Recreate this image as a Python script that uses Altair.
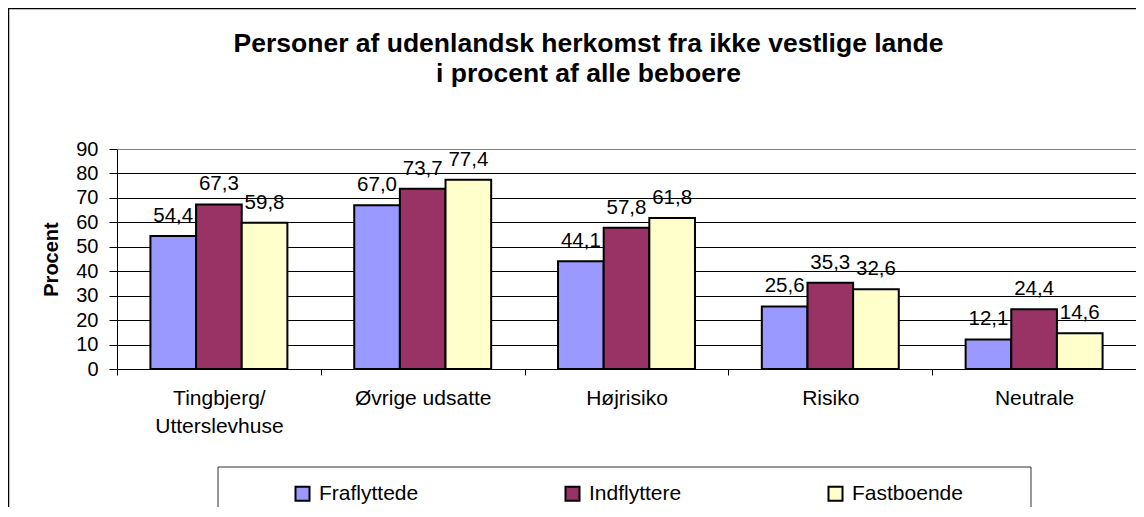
import altair as alt
import pandas as pd

# ---- data ----
categories = ["Tingbjerg/Utterslevhuse", "Øvrige udsatte", "Højrisiko", "Risiko", "Neutrale"]
series = ["Fraflyttede", "Indflyttere", "Fastboende"]
fraflyttede = [54.4, 67.0, 44.1, 25.6, 12.1]
indflyttere = [67.3, 73.7, 57.8, 35.3, 24.4]
fastboende = [59.8, 77.4, 61.8, 32.6, 14.6]
colors = ["#9999FF", "#993366", "#FFFFCC"]
y_ticks = list(range(0, 91, 10))
title_lines = ["Personer af udenlandsk herkomst fra ikke vestlige lande", "i procent af alle beboere"]
y_title = "Procent"

rows = []
for s, vals in zip(series, [fraflyttede, indflyttere, fastboende]):
    for c, v in zip(categories, vals):
        rows.append({"kategori": c, "serie": s, "procent": v,
                     "label": f"{v:.1f}".replace(".", ",")})
df = pd.DataFrame(rows)

FONT = "Liberation Sans"
PLOT_W, PLOT_H = 1019, 220

x_enc = alt.X(
    "kategori:N", sort=categories,
    scale=alt.Scale(paddingInner=0, paddingOuter=0),
    axis=alt.Axis(
        title=None, labelAngle=0, labelFont=FONT, labelFontSize=21, labelColor="black",
        labelExpr="split(replace(datum.label, '/', '/|'), '|')",
        labelLineHeight=28, labelBaseline="top", labelPadding=12,
        tickBand="extent", ticks=True, tickSize=6, tickColor="black",
        domainColor="black", domainWidth=1, grid=False,
    ),
)
xoff_enc = alt.XOffset("serie:N", sort=series, scale=alt.Scale(paddingInner=0, paddingOuter=0.732))
y_enc = alt.Y(
    "procent:Q",
    scale=alt.Scale(domain=[0, 90], nice=False),
    axis=alt.Axis(
        values=y_ticks, title=y_title, grid=True,
        gridColor={"condition": {"test": "datum.value === 90", "value": "#808080"}, "value": "#000000"},
        gridWidth=1, tickSize=8, tickColor="black", domainColor="black",
        labelFont=FONT, labelFontSize=20, labelColor="black", labelPadding=11,
        titleFont=FONT, titleFontSize=20, titleFontWeight="bold", titleColor="black",
        titleAngle=270, titleX=-66, titleY=110, titleAlign="center", titleBaseline="middle",
    ),
)

bars = alt.Chart(df).mark_bar(stroke="black", strokeWidth=2).encode(
    x=x_enc, xOffset=xoff_enc, y=y_enc,
    fill=alt.Fill(
        "serie:N", sort=series, scale=alt.Scale(domain=series, range=colors),
        legend=alt.Legend(
            title=None, orient="none", legendX=175, legendY=334, direction="horizontal",
            columns=3, columnPadding=142, padding=0, symbolType="square", symbolSize=196,
            symbolStrokeColor="black", symbolStrokeWidth=2, labelFont=FONT, labelFontSize=21,
            labelColor="black", labelOffset=6,
        ),
    ),
)

labels = alt.Chart(df).mark_text(
    font=FONT, fontSize=20.5, color="black", baseline="alphabetic", dy=-14
).encode(x=x_enc, xOffset=xoff_enc, y=y_enc, text="label:N")

one = pd.DataFrame({"k": [0]})
frame = alt.Chart(one).mark_rect(fillOpacity=0, stroke="black", strokeWidth=1.5).encode(
    x=alt.value(-108.5), x2=alt.value(1300), y=alt.value(-140.5), y2=alt.value(600)
)
legend_box = alt.Chart(one).mark_rect(fill="white", stroke="#333333", strokeWidth=1).encode(
    x=alt.value(101), x2=alt.value(914), y=alt.value(318), y2=alt.value(450)
)

chart = alt.layer(frame, legend_box, bars, labels).properties(
    width=PLOT_W, height=PLOT_H,
    title=alt.TitleParams(
        text=title_lines, font=FONT, fontSize=26.5, fontWeight="bold", color="black",
        anchor="middle", lineHeight=30, offset=0, dx=-38, dy=80,
    ),
    autosize=alt.AutoSizeParams(type="none"),
    padding={"left": 109, "top": 141, "right": 0, "bottom": 138},
).configure_view(
    fill="#C0C0C0", stroke="#808080", strokeWidth=2
).configure(background="white")

chart.save("out.html", embed_options={"renderer": "svg", "actions": False})
